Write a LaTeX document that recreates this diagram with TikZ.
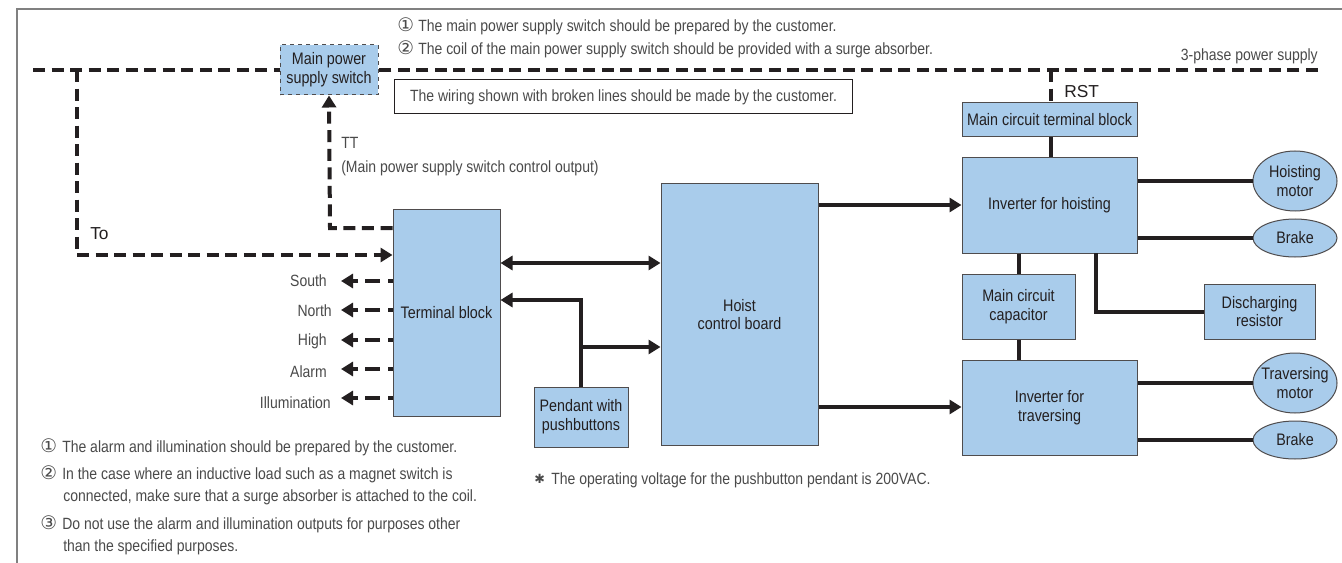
\documentclass[tikz,border=0pt]{standalone}
\usepackage{fontspec}
\setmainfont[FakeStretch=0.86]{Liberation Sans}
\newfontfamily\wide{Liberation Sans}
\newfontfamily\sym{DejaVu Sans}
\usetikzlibrary{arrows.meta,shapes.geometric}
\definecolor{bluebox}{HTML}{A9CCEB}
\definecolor{ink}{HTML}{231F20}
\definecolor{greytext}{HTML}{4A4A4A}
\tikzset{
  blockbox/.style={draw=ink!80,line width=0.75pt,fill=bluebox,inner sep=0pt,align=center,text=ink,font=\fontsize{12.5}{14}\selectfont},
  ovalbox/.style={blockbox,ellipse,inner xsep=-8pt,inner ysep=-5pt},
  wire/.style={draw=ink,line width=3pt},
  brokenwire/.style={wire,dash pattern=on 9pt off 4.9pt},
  shortdash/.style={wire,dash pattern=on 3.7pt off 6pt on 11pt off 5pt},
  head/.style={-{Triangle[length=9pt,width=10.5pt]}},
  twohead/.style={{Triangle[length=9pt,width=10.5pt]}-{Triangle[length=9pt,width=10.5pt]}},
  note/.style={inner sep=0pt,anchor=base west,text=greytext,font=\fontsize{12.2}{13}\selectfont},
  outlabel/.style={inner sep=0pt,anchor=east,text=greytext,font=\fontsize{12.2}{13}\selectfont},
  symb/.style={inner sep=0pt,anchor=base west,text=greytext,font=\sym\fontsize{14}{14}\selectfont},
}
\begin{document}
\begin{tikzpicture}[x=0.75pt,y=-0.75pt]
\useasboundingbox (0,0) rectangle (1342,563);
\fill[white] (0,0) rectangle (1342,563);
\coordinate (frameA) at (17,563);
\coordinate (frameB) at (17,9);
\coordinate (frameC) at (1342,9);
\draw[draw=gray,line width=1pt] (frameA) -- (frameB) -- (frameC);

% Blocks
\node[blockbox,dashed,minimum width=73.5pt,minimum height=37.5pt] (msw) at (329,70) {Main power\\supply switch};
\node[draw=ink,line width=0.75pt,inner sep=0pt,text=greytext,font=\fontsize{12.2}{13}\selectfont,minimum width=343pt,minimum height=25.5pt] (wnote) at (623.5,97) {The wiring shown with broken lines should be made by the customer.};
\node[blockbox,minimum width=80.25pt,minimum height=154.5pt] (tb) at (446.5,313) {Terminal block};
\node[blockbox,minimum width=117.75pt,minimum height=195.75pt] (board) at (739.5,314.5) {Hoist\\control board};
\node[blockbox,minimum width=70.5pt,minimum height=45pt] (pend) at (581,417) {Pendant with\\pushbuttons};
\node[blockbox,minimum width=131.25pt,minimum height=25.5pt] (mctb) at (1049.5,120) {Main circuit terminal block};
\node[blockbox,minimum width=131.25pt,minimum height=71.25pt] (invh) at (1049.5,205.5) {Inverter for hoisting};
\node[blockbox,minimum width=84.75pt,minimum height=48.75pt] (cap) at (1018.5,306.5) {Main circuit\\capacitor};
\node[blockbox,minimum width=131.25pt,minimum height=71.25pt] (invt) at (1049.5,407.5) {Inverter for\\traversing};
\node[blockbox,minimum width=83.25pt,minimum height=41.25pt] (res) at (1259.5,311.5) {Discharging\\resistor};
\node[ovalbox,minimum width=63pt,minimum height=45pt] (hm) at (1295,181) {Hoisting\\motor};
\node[ovalbox,minimum width=63pt,minimum height=28.5pt] (hb) at (1295,238) {Brake};
\node[ovalbox,minimum width=63pt,minimum height=45pt] (tm) at (1295,383) {Traversing\\motor};
\node[ovalbox,minimum width=63pt,minimum height=28.5pt] (tb2) at (1295,440) {Brake};

% Free ends and bends
\coordinate (pL) at (33,70);
\coordinate (pR) at (1318,70);
\coordinate (dropTo) at (77,70);
\coordinate (levelTo) at (77,255);
\coordinate (levelTT) at (330,228);
\coordinate (rstTop) at (1051,70);
\coordinate (junc) at (581,347);
\coordinate (upper) at (581,300);
\coordinate (south) at (341,281);
\coordinate (north) at (341,310);
\coordinate (high) at (341,340);
\coordinate (alarm) at (341,369);
\coordinate (illum) at (341,398);
\coordinate (resTop) at (1096,253);
\coordinate (resCorner) at (1096,312);
\coordinate (y263) at (0,263);
\coordinate (y205) at (0,205);
\coordinate (y407) at (0,407);

% Broken wiring
\draw[brokenwire] (pL) -- (msw.west);
\draw[brokenwire] (pR) -- (msw.east);
\draw[brokenwire] (dropTo) -- (levelTo);
\draw[brokenwire,head] (levelTo) -- (tb.west |- levelTo);
\draw[brokenwire,head] (tb.west |- levelTT) -- (levelTT) -- (msw.south);
\draw[brokenwire] (rstTop) -- (mctb.north -| rstTop);
\draw[shortdash,head] (tb.west |- south) -- (south);
\draw[shortdash,head] (tb.west |- north) -- (north);
\draw[shortdash,head] (tb.west |- high) -- (high);
\draw[shortdash,head] (tb.west |- alarm) -- (alarm);
\draw[shortdash,head] (tb.west |- illum) -- (illum);

% Solid wiring
\draw[wire,twohead] (tb.east |- y263) -- (board.west |- y263);
\draw[wire,head] (pend.north) -- (upper) -- (tb.east |- upper);
\draw[wire,head] (junc) -- (board.west |- junc);
\draw[wire,head] (board.east |- y205) -- (invh.west |- y205);
\draw[wire,head] (board.east |- y407) -- (invt.west |- y407);
\draw[wire] (mctb.south -| rstTop) -- (invh.north -| rstTop);
\draw[wire] (invh.south -| cap.north) -- (cap.north);
\draw[wire] (cap.south) -- (invt.north -| cap.south);
\draw[wire] (resTop) -- (resCorner) -- (res.west |- resCorner);
\draw[wire] (invh.east |- hm) -- (hm.west);
\draw[wire] (invh.east |- hb) -- (hb.west);
\draw[wire] (invt.east |- tm) -- (tm.west);
\draw[wire] (invt.east |- tb2) -- (tb2.west);

% Labels
\node[note,anchor=base east] (l3p) at (1318,61) {3-phase power supply};
\node[note,font=\wide\fontsize{13}{14}\selectfont,text=ink] (lrst) at (1064,98) {RST};
\node[note] (ltt) at (341,149) {TT};
\node[note] (lmp) at (341,173) {(Main power supply switch control output)};
\node[note,font=\wide\fontsize{13}{14}\selectfont,text=ink] (lto) at (90,239) {To};
\node[outlabel] (ls) at (327,281) {South};
\node[outlabel] (ln) at (332,311) {North};
\node[outlabel] (lh) at (327,341) {High};
\node[outlabel] (la) at (327,372) {Alarm};
\node[outlabel] (li) at (331,403) {Illumination};

% Top notes
\node[symb] (t1) at (397,32) {①};
\node[note] (t1t) at (418,32) {The main power supply switch should be prepared by the customer.};
\node[symb] (t2) at (397,55) {②};
\node[note] (t2t) at (418,55) {The coil of the main power supply switch should be provided with a surge absorber.};

% Bottom notes
\node[symb] (b1) at (40,452) {①};
\node[note] (b1t) at (62,452) {The alarm and illumination should be prepared by the customer.};
\node[symb] (b2) at (40,479) {②};
\node[note] (b2t) at (62,479) {In the case where an inductive load such as a magnet switch is};
\node[note] (b2u) at (63,501) {connected, make sure that a surge absorber is attached to the coil.};
\node[symb] (b3) at (40,529) {③};
\node[note] (b3t) at (62,529) {Do not use the alarm and illumination outputs for purposes other};
\node[note] (b3u) at (63,551) {than the specified purposes.};
\node[symb,font=\sym\fontsize{9.5}{10}\selectfont] (ast) at (534,483) {✱};
\node[note] (astt) at (551,484) {The operating voltage for the pushbutton pendant is 200VAC.};
\end{tikzpicture}
\end{document}
